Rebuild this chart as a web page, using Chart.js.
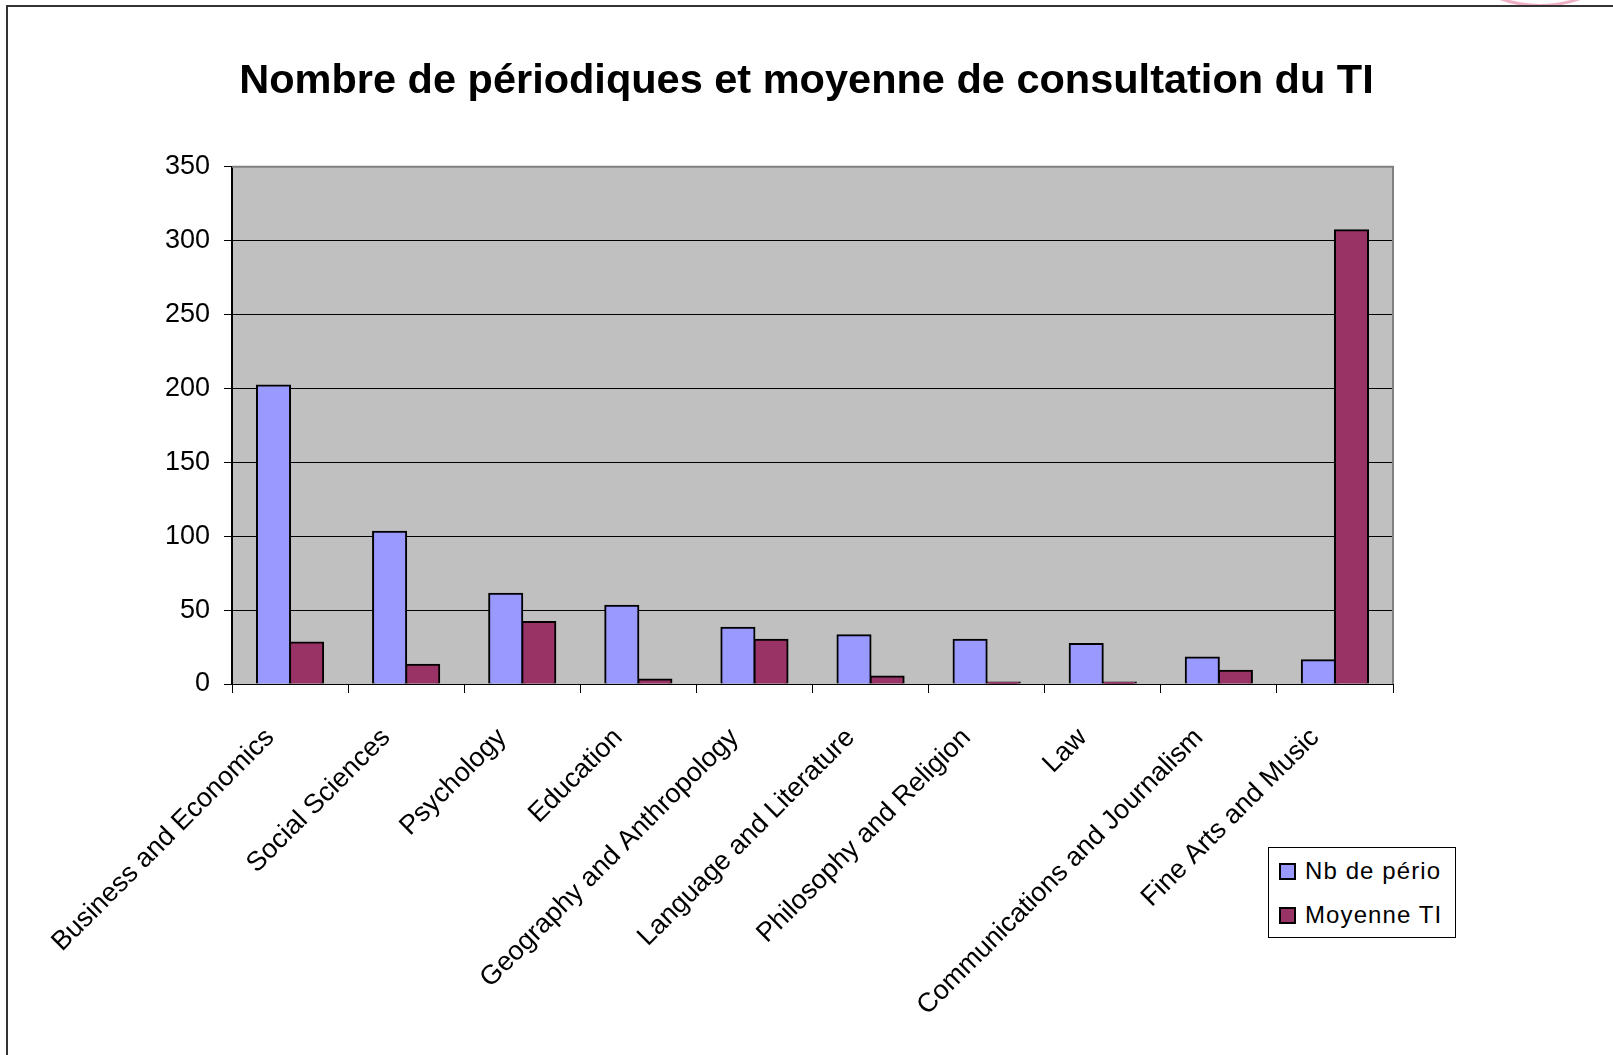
<!DOCTYPE html>
<html lang="fr">
  <head>
    <meta charset="UTF-8" />
    <title>Nombre de périodiques</title>
    <script src="https://cdn.jsdelivr.net/npm/chart.js"></script>
    <style>
      body { margin: 0; background: #fff; font-family: "Liberation Sans", Arial, sans-serif; }
      #wrap { position: relative; width: 1613px; height: 1055px; overflow: hidden; }
      #stamp { position: absolute; left: 1420px; top: -233px; width: 234px; height: 234px;
               border: 3px solid rgba(225, 110, 145, 0.55); border-radius: 50%; }
      #frame { position: absolute; left: 6px; top: 5px; right: -10px; bottom: -10px;
               border-left: 2px solid #333; border-top: 2px solid #333; }
      #legend { position: absolute; left: 1268px; top: 847px; width: 188px; height: 91px;
                border: 1px solid #000; background: #fff; box-sizing: border-box; padding-top: 1px; }
      .item { display: flex; align-items: center; height: 44px; padding-left: 10px;
              font-size: 24px; letter-spacing: 1.1px; color: #000; }
      .box { width: 13px; height: 13px; border: 2px solid #000; margin-right: 9px; }
    </style>
  </head>
  <body>
    <div id="wrap">
      <div id="stamp"></div>
      <div id="frame"></div>
      <canvas id="chart"></canvas>
      <div id="legend"></div>
    </div>

    <script>
      const categories = [
        "Business and Economics", "Social Sciences", "Psychology", "Education",
        "Geography and Anthropology", "Language and Literature",
        "Philosophy and Religion", "Law", "Communications and Journalism",
        "Fine Arts and Music"
      ];
      const nbPerio = [202, 103, 61, 53, 38, 33, 30, 27, 18, 16];
      const moyenneTI = [28, 13, 42, 3, 30, 5, 1, 1, 9, 307];
      const yTicks = [0, 50, 100, 150, 200, 250, 300, 350];

      // fond gris + bord de la zone de tracé
      const plotArea = {
        id: "plotArea",
        beforeDraw(chart) {
          const { ctx, chartArea: a } = chart;
          ctx.save();
          ctx.fillStyle = "#C0C0C0";
          ctx.fillRect(a.left, a.top, a.right - a.left, a.bottom - a.top);
          ctx.restore();
        },
        afterDraw(chart) {
          const { ctx, chartArea: a } = chart;
          ctx.save();
          ctx.strokeStyle = "#808080";
          ctx.lineWidth = 2;
          ctx.beginPath();
          ctx.moveTo(a.left, a.top);
          ctx.lineTo(a.right, a.top);
          ctx.lineTo(a.right, a.bottom);
          ctx.stroke();
          ctx.restore();
        }
      };

      const family = "'Liberation Sans', Arial, sans-serif";

      const chart = new Chart(document.getElementById("chart"), {
        type: "bar",
        data: {
          labels: categories,
          datasets: [
            { label: "Nb de pério", data: nbPerio, backgroundColor: "#9999FF" },
            { label: "Moyenne TI", data: moyenneTI, backgroundColor: "#993366" }
          ]
        },
        options: {
          responsive: true,
          maintainAspectRatio: false,
          animation: false,
          layout: { padding: 0 },
          datasets: {
            bar: { borderColor: "#000", borderWidth: 2, inflateAmount: 1,
                   categoryPercentage: 0.57, barPercentage: 1.0 }
          },
          plugins: {
            legend: { display: false },
            tooltip: { enabled: false },
            title: {
              display: true,
              text: "Nombre de périodiques et moyenne de consultation du TI",
              color: "#000",
              font: { family: family, size: 41.5, weight: "bold" },
              padding: { top: 57, bottom: 60 }
            }
          },
          scales: {
            x: {
              grid: { offset: true, drawOnChartArea: false, color: "#000", tickLength: 9 },
              border: { color: "#000", width: 1 },
              ticks: { color: "#000", font: { family: family, size: 27 },
                       minRotation: 45, maxRotation: 45, autoSkip: false,
                       padding: 29, labelOffset: -20 },
              afterFit(scale) { scale.height = 371; }
            },
            y: {
              min: 0,
              max: 350,
              afterBuildTicks(scale) { scale.ticks = yTicks.map(v => ({ value: v })); },
              grid: { color: "#000", lineWidth: 1, tickLength: 8 },
              border: { color: "#000", width: 2 },
              ticks: { color: "#000", font: { family: family, size: 27 }, padding: 14 },
              afterFit(scale) { scale.width = 232; }
            },
            // axe vide à droite : réserve la marge sans décentrer le titre
            yRight: {
              position: "right",
              display: true,
              grid: { display: false },
              border: { display: false },
              ticks: { display: false },
              afterFit(scale) { scale.width = 220; }
            }
          }
        },
        plugins: [plotArea]
      });

      // légende HTML
      const legend = document.getElementById("legend");
      chart.data.datasets.forEach(ds => {
        const item = document.createElement("div");
        item.className = "item";
        const box = document.createElement("span");
        box.className = "box";
        box.style.background = ds.backgroundColor;
        item.appendChild(box);
        item.appendChild(document.createTextNode(ds.label));
        legend.appendChild(item);
      });
    </script>
  </body>
</html>
